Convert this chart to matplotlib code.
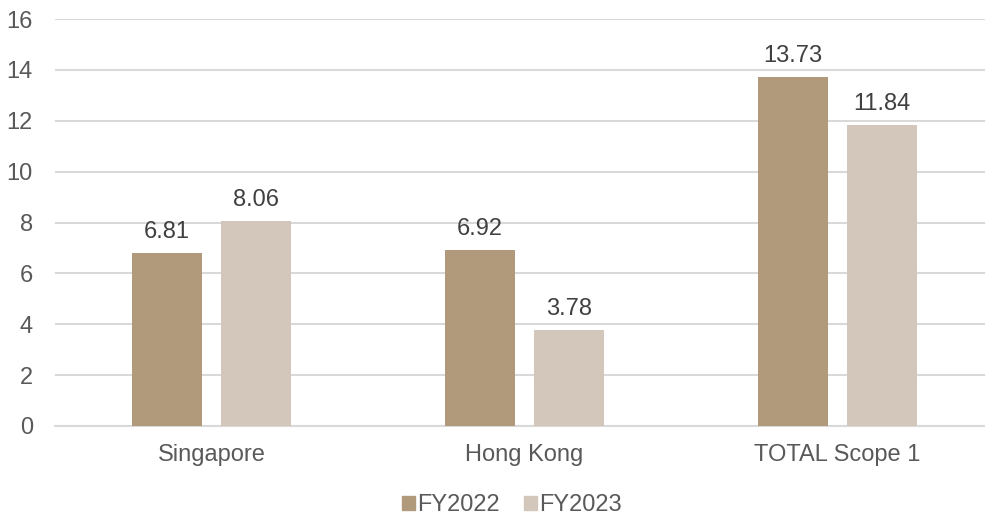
import matplotlib.pyplot as plt
import numpy as np
from matplotlib.patches import Patch

plt.rcParams['font.family'] = ['Liberation Sans', 'DejaVu Sans']

categories = ['Singapore', 'Hong Kong', 'TOTAL Scope 1']
fy2022 = [6.81, 6.92, 13.73]
fy2023 = [8.06, 3.78, 11.84]
series_names = ['FY2022', 'FY2023']
colors = ['#B09A7B', '#D3C6BA']

fig = plt.figure(figsize=(9.85, 5.19), dpi=100)
ax = fig.add_axes([55 / 985, 93 / 519, 939 / 985, 407 / 519])

x = np.arange(len(categories))
w = 0.224
off = 0.142
for vals, dx, c in [(fy2022, -off, colors[0]), (fy2023, off, colors[1])]:
    bars = ax.bar(x + dx, vals, width=w, color=c, zorder=3)
    for b, v in zip(bars, vals):
        ax.annotate(f'{v:.2f}', (b.get_x() + b.get_width() / 2, v),
                    xytext=(0, 7), textcoords='offset points',
                    ha='center', va='bottom', fontsize=17, color='#404040')

ax.set_xlim(-0.5, len(categories) - 0.5)
ax.set_ylim(0, 16)
ax.set_yticks(range(0, 17, 2))
ax.set_xticks(x)
ax.set_xticklabels(categories)
ax.tick_params(axis='y', length=0, pad=16, labelsize=17, labelcolor='#595959')
ax.tick_params(axis='x', length=0, pad=13, labelsize=17, labelcolor='#595959')
ax.grid(axis='y', color='#D9D9D9', linewidth=1.5, zorder=0)
for s in ['top', 'right', 'left']:
    ax.spines[s].set_visible(False)
ax.spines['bottom'].set_color('#D9D9D9')
ax.spines['bottom'].set_linewidth(1.5)

handles = [Patch(color=c) for c in colors]
fig.legend(handles, series_names, loc='center', bbox_to_anchor=(512 / 985, 1 - 505 / 519),
           ncol=2, frameon=False, fontsize=17, labelcolor='#595959',
           handlelength=0.55, handleheight=0.55, handletextpad=0.1, columnspacing=1.0)

fig.savefig('out.png', dpi=100)
